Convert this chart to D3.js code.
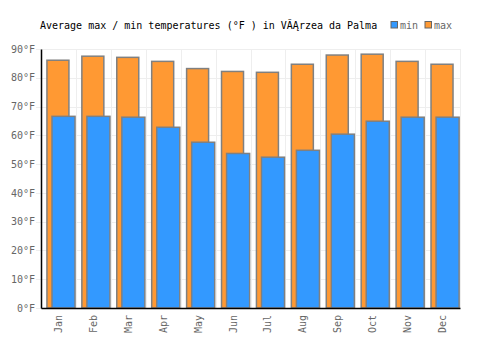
<!DOCTYPE html>
<html><head><meta charset="utf-8">
<script src="https://cdn.jsdelivr.net/npm/d3@7"></script>
<style>
body{margin:0;background:#fff;}
svg{display:block;}
text{font-family:"DejaVu Sans Mono",monospace;}
</style></head>
<body>
<svg id="c" width="500" height="350"></svg>
<script>
const months = ["Jan","Feb","Mar","Apr","May","Jun","Jul","Aug","Sep","Oct","Nov","Dec"];
const maxTemps = [86.1, 87.5, 87.1, 85.7, 83.2, 82.2, 81.9, 84.7, 87.9, 88.2, 85.7, 84.7];
const minTemps = [66.6, 66.6, 66.3, 62.8, 57.6, 53.7, 52.4, 54.8, 60.4, 64.9, 66.3, 66.3];
const yTicks = [0,10,20,30,40,50,60,70,80,90];
const titleText = "Average max / min temperatures (°F ) in VĂĄrzea da Palma";

const svg = d3.select("#c");
const L = 41, R = 460, T = 49, B = 308;
const x = d3.scaleBand().domain(months).range([L, R]).padding(0);
const y = d3.scaleLinear().domain([0, 90]).range([B, T]);
const bw = x.bandwidth();

// grid
svg.append("g").selectAll("line").data(yTicks).join("line")
  .attr("x1", L - 5).attr("x2", R).attr("y1", d => Math.round(y(d)) + 0.5).attr("y2", d => Math.round(y(d)) + 0.5)
  .attr("stroke", "#eeeeee").attr("stroke-width", 1);
svg.append("g").selectAll("line").data(months.slice(1).concat(["end"])).join("line")
  .attr("x1", (d,i) => Math.round(L + bw*(i+1)) + 0.5).attr("x2", (d,i) => Math.round(L + bw*(i+1)) + 0.5)
  .attr("y1", T).attr("y2", B)
  .attr("stroke", "#eeeeee").attr("stroke-width", 1);

// max bars
svg.append("g").selectAll("rect").data(months).join("rect")
  .attr("x", d => x(d) + bw*0.17).attr("width", bw*0.63)
  .attr("y", (d,i) => y(maxTemps[i])).attr("height", (d,i) => B - y(maxTemps[i]))
  .attr("fill", "#ff9933").attr("stroke", "#808080").attr("stroke-width", 1.5);
// min bars
svg.append("g").selectAll("rect").data(months).join("rect")
  .attr("x", d => x(d) + bw*0.315).attr("width", bw*0.66)
  .attr("y", (d,i) => y(minTemps[i])).attr("height", (d,i) => B - y(minTemps[i]))
  .attr("fill", "#3399ff").attr("stroke", "#808080").attr("stroke-width", 1.5);

// axes
const yAxis = d3.axisLeft(y).tickValues(yTicks).tickFormat(d => d + "°F").tickSize(0).tickPadding(6);
const gy = svg.append("g").attr("transform", `translate(${L},0)`).call(yAxis);
gy.select(".domain").attr("stroke", "#000").attr("stroke-width", 1.5);
gy.selectAll("text").attr("fill", "#666").style("font-size", "10px").style("font-family", "'DejaVu Sans Mono', monospace");

const xAxis = d3.axisBottom(x).tickSize(0).tickPadding(0);
const gx = svg.append("g").attr("transform", `translate(0,${B})`).call(xAxis);
gx.select(".domain").attr("stroke", "#000").attr("stroke-width", 1.5);
gx.selectAll("text").attr("fill", "#666").style("font-size", "10px").style("font-family", "'DejaVu Sans Mono', monospace")
  .attr("text-anchor", "end").attr("dy", "0.35em")
  .attr("transform", "translate(0,7) rotate(-90)").attr("x", 0).attr("y", 0);

// title
svg.append("text").attr("x", 40).attr("y", 29).text(titleText)
  .attr("fill", "#000").style("font-size", "10px");

// legend
const leg = [{k:"min", c:"#3399ff", x:391}, {k:"max", c:"#ff9933", x:425}];
const lg = svg.append("g").selectAll("g").data(leg).join("g");
lg.append("rect").attr("x", d => d.x).attr("y", 21.5).attr("width", 6.5).attr("height", 6.5)
  .attr("fill", d => d.c).attr("stroke", "#666").attr("stroke-width", 1);
lg.append("text").attr("x", d => d.x + 9).attr("y", 29).text(d => d.k)
  .attr("fill", "#666").style("font-size", "10px");
</script>
</body></html>
